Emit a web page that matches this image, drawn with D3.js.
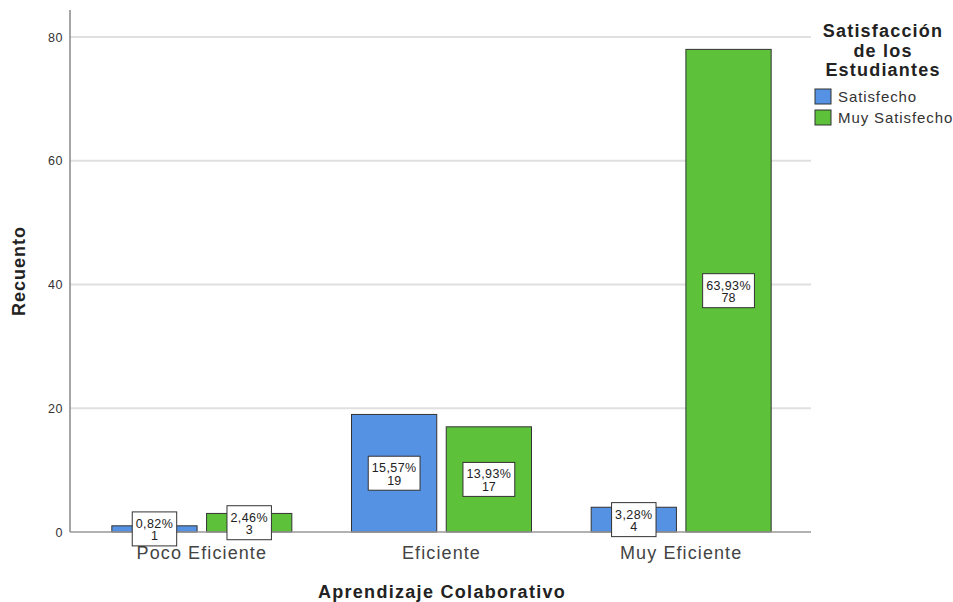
<!DOCTYPE html>
<html>
<head>
<meta charset="utf-8">
<script src="https://cdn.jsdelivr.net/npm/d3@7"></script>
<style>
  body { margin: 0; background: #fff; }
  text { font-family: "Liberation Sans", Arial, sans-serif; }
</style>
</head>
<body>
<div id="chart"></div>
<script>
const width = 953;
const height = 602;

// データ
const categories = ["Poco Eficiente", "Eficiente", "Muy Eficiente"];
const series = ["Satisfecho", "Muy Satisfecho"];
const satisfecho = [1, 19, 4];
const muySatisfecho = [3, 17, 78];
const pctSatisfecho = ["0,82%", "15,57%", "3,28%"];
const pctMuySatisfecho = ["2,46%", "13,93%", "63,93%"];
const yTicks = [0, 20, 40, 60, 80];

const colors = ["#5592e3", "#5dc13a"];

const rows = [];
categories.forEach((c, i) => {
  rows.push({ cat: c, s: series[0], v: satisfecho[i], pct: pctSatisfecho[i] });
  rows.push({ cat: c, s: series[1], v: muySatisfecho[i], pct: pctMuySatisfecho[i] });
});

const svg = d3.select("#chart").append("svg")
  .attr("width", width)
  .attr("height", height);

// =====================
// スケール
// =====================
const plotLeft = 70, plotRight = 811, baseY = 532;
const y = d3.scaleLinear().domain([0, 80]).range([baseY, 37]);
const x0 = d3.scaleBand().domain(categories).range([82, 801]);
const groupW = 180;
const x1 = d3.scaleBand().domain(series).range([0, groupW]).paddingInner(0.1);

// グリッド線
svg.append("g").selectAll("line")
  .data(yTicks.filter(d => d > 0))
  .join("line")
  .attr("x1", plotLeft).attr("x2", plotRight)
  .attr("y1", d => y(d)).attr("y2", d => y(d))
  .attr("stroke", "#e0e0e0")
  .attr("stroke-width", 2);

// y軸ラベル
svg.append("g").selectAll("text")
  .data(yTicks)
  .join("text")
  .attr("x", 63)
  .attr("y", d => y(d) + 4.5)
  .attr("text-anchor", "end")
  .attr("font-size", 12.5)
  .attr("letter-spacing", 0.5)
  .attr("fill", "#333")
  .text(d => d);

// バー
const bars = svg.append("g");
bars.selectAll("rect")
  .data(rows)
  .join("rect")
  .attr("x", d => x0(d.cat) + (x0.bandwidth() - groupW) / 2 + x1(d.s))
  .attr("y", d => y(d.v))
  .attr("width", x1.bandwidth())
  .attr("height", d => baseY - y(d.v))
  .attr("fill", d => colors[series.indexOf(d.s)])
  .attr("stroke", "#333")
  .attr("stroke-width", 1);

// 軸線
svg.append("line")
  .attr("x1", plotLeft).attr("x2", plotRight)
  .attr("y1", baseY).attr("y2", baseY)
  .attr("stroke", "#999").attr("stroke-width", 1.5);
svg.append("line")
  .attr("x1", plotLeft).attr("x2", plotLeft)
  .attr("y1", 10).attr("y2", baseY)
  .attr("stroke", "#888").attr("stroke-width", 1.5);

// x軸カテゴリ
svg.append("g").selectAll("text")
  .data(categories)
  .join("text")
  .attr("x", d => x0(d) + x0.bandwidth() / 2)
  .attr("y", 559)
  .attr("text-anchor", "middle")
  .attr("font-size", 18)
  .attr("letter-spacing", 1.1)
  .attr("fill", "#444")
  .text(d => d);

// ラベルボックス
const labels = svg.append("g");
rows.forEach(d => {
  const cx = x0(d.cat) + (x0.bandwidth() - groupW) / 2 + x1(d.s) + x1.bandwidth() / 2;
  const cy = (y(d.v) + baseY) / 2;
  const g = labels.append("g").attr("transform", `translate(${cx},${cy})`);
  const box = g.append("rect");
  const t1 = g.append("text")
    .attr("y", -1)
    .attr("text-anchor", "middle")
    .attr("font-size", 12.5)
    .attr("letter-spacing", 0.4)
    .attr("fill", "#222")
    .text(d.pct);
  g.append("text")
    .attr("y", 11.5)
    .attr("text-anchor", "middle")
    .attr("font-size", 12.5)
    .attr("fill", "#222")
    .text(d.v);
  const boxW = t1.node().getComputedTextLength() + 7;
  box.attr("x", -boxW / 2).attr("y", -17)
    .attr("width", boxW).attr("height", 34)
    .attr("fill", "#fff")
    .attr("stroke", "#333")
    .attr("stroke-width", 1);
});

// 軸タイトル
svg.append("text")
  .attr("x", 442).attr("y", 598)
  .attr("text-anchor", "middle")
  .attr("font-size", 18)
  .attr("font-weight", "bold")
  .attr("letter-spacing", 1.3)
  .attr("fill", "#222")
  .text("Aprendizaje Colaborativo");

svg.append("text")
  .attr("transform", "translate(25,271) rotate(-90)")
  .attr("text-anchor", "middle")
  .attr("font-size", 18)
  .attr("font-weight", "bold")
  .attr("letter-spacing", 1)
  .attr("fill", "#222")
  .text("Recuento");

// 凡例
const legend = svg.append("g");
["Satisfacción", "de los", "Estudiantes"].forEach((t, i) => {
  legend.append("text")
    .attr("x", 883).attr("y", 37 + i * 19.5)
    .attr("text-anchor", "middle")
    .attr("font-size", 18)
    .attr("font-weight", "bold")
    .attr("letter-spacing", 1.2)
    .attr("fill", "#222")
    .text(t);
});
series.forEach((s, i) => {
  legend.append("rect")
    .attr("x", 815).attr("y", 89 + i * 21)
    .attr("width", 16).attr("height", 15)
    .attr("fill", colors[i])
    .attr("stroke", "#333");
  legend.append("text")
    .attr("x", 838).attr("y", 102 + i * 21)
    .attr("font-size", 15)
    .attr("letter-spacing", 0.9)
    .attr("fill", "#333")
    .text(s);
});
</script>
</body>
</html>
